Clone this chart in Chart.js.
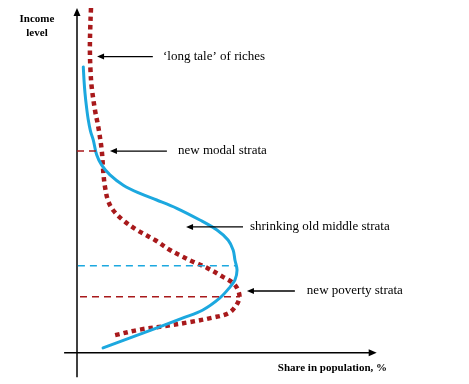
<!DOCTYPE html>
<html><head><meta charset="utf-8">
<script src="https://cdn.jsdelivr.net/npm/chart.js@4/dist/chart.umd.min.js"></script>
<style>html,body{margin:0;padding:0;background:#fff;}canvas{display:block;}</style>
</head><body>
<canvas id="c" width="469" height="384"></canvas>
<script>
// Old distribution (solid blue): share in population (x) vs income level (y)
const oldShare  = [2.1,2.34,2.67,3.17,3.77,4.5,5.44,6.56,8.24,11.0,15.45,21.0,26.6,33.3,41.0,46.7,50.4,52.1,52.7,53.4,52.7,51.1,47.7,42.0,35.4,26.7,17.7,8.7];
const oldIncome = [82.9,79.1,75.3,71.3,67.5,64.3,61.7,57.4,54.4,51.6,48.6,46.2,44.3,41.9,38.5,35.6,32.7,29.8,26.9,24.0,21.1,19.1,15.9,12.4,10.1,7.2,4.3,1.4];
// New distribution (dotted dark red)
const newShare  = [4.67,4.4,4.3,4.5,4.9,6.0,7.1,8.24,8.8,9.34,10.3,12.0,15.3,20.0,26.0,31.0,34.7,38.7,43.4,48.7,52.1,53.7,54.2,52.7,50.4,45.4,37.7,30.0,21.0,12.7];
const newIncome = [100,93.6,87.8,82.0,77.1,70.4,65.5,58.8,52.2,48.1,44.3,41.4,38.5,35.6,32.7,29.8,28.1,26.4,24.6,22.0,20.2,18.2,15.9,13.2,11.4,10.2,8.9,7.8,6.7,5.1];
// Reference levels (dashed)
const modalLevel = 58.5, modalShare = [0, 7.5];
const oldMidLevel = 25.2, oldMidShare = [0.3, 53.4];
const povertyLevel = 16.2, povertyShare = [1.0, 54.4];
// Annotations
const annLabels = ["\u2018long tale\u2019 of riches", "new modal strata", "shrinking old middle strata", "new poverty strata"];
const annLevel  = [85.9, 58.5, 36.5, 17.9];
const annTip    = [6.7, 11.0, 36.4, 56.7];
const annTail   = [25.3, 30.0, 55.4, 72.7];
const annText   = [28.7, 33.7, 57.7, 76.7];
const xAxisTitle = "Share in population, %";
const yAxisTitle = ["Income", "level"];

const pts = (xs, ys) => xs.map((x, i) => ({x, y: ys[i]}));
const hline = (xs, y) => xs.map(x => ({x, y}));

const BLUE = '#1ca8df', RED = '#a8191b';

function arrowHead(ctx, x, y, dir, len, half) {
  ctx.beginPath();
  if (dir === 'left') { ctx.moveTo(x, y); ctx.lineTo(x + len, y - half); ctx.lineTo(x + len, y + half); }
  else if (dir === 'right') { ctx.moveTo(x, y); ctx.lineTo(x - len, y - half); ctx.lineTo(x - len, y + half); }
  else if (dir === 'up') { ctx.moveTo(x, y); ctx.lineTo(x - half, y + len); ctx.lineTo(x + half, y + len); }
  ctx.closePath(); ctx.fill();
}

const sketchPlugin = {
  id: 'sketch',
  beforeDatasetsDraw(chart) {
    const ctx = chart.ctx, xs = chart.scales.x, ys = chart.scales.y;
    const x0 = xs.getPixelForValue(0), y0 = ys.getPixelForValue(0);
    ctx.save();
    ctx.strokeStyle = '#000'; ctx.fillStyle = '#000'; ctx.lineWidth = 1.5;
    // y axis
    const yTop = ys.getPixelForValue(100), yBot = ys.getPixelForValue(-7.1);
    ctx.beginPath(); ctx.moveTo(x0, yBot); ctx.lineTo(x0, yTop + 6); ctx.stroke();
    arrowHead(ctx, x0, yTop, 'up', 8, 3.5);
    // x axis
    const xL = xs.getPixelForValue(-4.3), xR = xs.getPixelForValue(100);
    ctx.beginPath(); ctx.moveTo(xL, y0); ctx.lineTo(xR - 6, y0); ctx.stroke();
    arrowHead(ctx, xR, y0, 'right', 8, 3.5);
    // titles
    ctx.font = 'bold 11px "Liberation Serif", serif';
    ctx.textBaseline = 'middle';
    ctx.textAlign = 'left';
    ctx.fillText(xAxisTitle, xs.getPixelForValue(67), y0 + 15.5);
    ctx.textAlign = 'center';
    ctx.fillText(yAxisTitle[0], 37, 19);
    ctx.fillText(yAxisTitle[1], 37, 33);
    ctx.restore();
  },
  afterDatasetsDraw(chart) {
    const ctx = chart.ctx, xs = chart.scales.x, ys = chart.scales.y;
    ctx.save();
    ctx.strokeStyle = '#000'; ctx.fillStyle = '#000'; ctx.lineWidth = 1.3;
    ctx.font = '13px "Liberation Serif", serif';
    ctx.textBaseline = 'middle'; ctx.textAlign = 'left';
    annLabels.forEach((lab, i) => {
      const y = ys.getPixelForValue(annLevel[i]);
      const tip = xs.getPixelForValue(annTip[i]), tail = xs.getPixelForValue(annTail[i]);
      ctx.beginPath(); ctx.moveTo(tail, y); ctx.lineTo(tip + 5, y); ctx.stroke();
      arrowHead(ctx, tip, y, 'left', 7, 3);
      ctx.fillText(lab, xs.getPixelForValue(annText[i]), y);
    });
    ctx.restore();
  }
};

new Chart(document.getElementById('c'), {
  type: 'scatter',
  data: {
    datasets: [
      { data: hline(modalShare, modalLevel), showLine: true, borderColor: RED, borderWidth: 1.5, borderDash: [7, 5], pointRadius: 0 },
      { data: hline(oldMidShare, oldMidLevel), showLine: true, borderColor: BLUE, borderWidth: 1.5, borderDash: [7, 5], pointRadius: 0 },
      { data: hline(povertyShare, povertyLevel), showLine: true, borderColor: RED, borderWidth: 1.5, borderDash: [7, 5], pointRadius: 0 },
      { data: pts(oldShare, oldIncome), showLine: true, borderColor: BLUE, borderWidth: 3, tension: 0.35, pointRadius: 0, borderCapStyle: 'round' },
      { data: pts(newShare, newIncome), showLine: true, borderColor: RED, borderWidth: 4.5, borderDash: [4.5, 4], tension: 0.35, pointRadius: 0, borderCapStyle: 'butt' }
    ]
  },
  options: {
    responsive: false,
    animation: false,
    clip: false,
    layout: { padding: { left: 77, right: 92.3, top: 8, bottom: 31.3 } },
    plugins: { legend: { display: false }, tooltip: { enabled: false } },
    scales: {
      x: { type: 'linear', min: 0, max: 100, display: false },
      y: { type: 'linear', min: 0, max: 100, display: false }
    }
  },
  plugins: [sketchPlugin]
});
</script>
</body></html>
